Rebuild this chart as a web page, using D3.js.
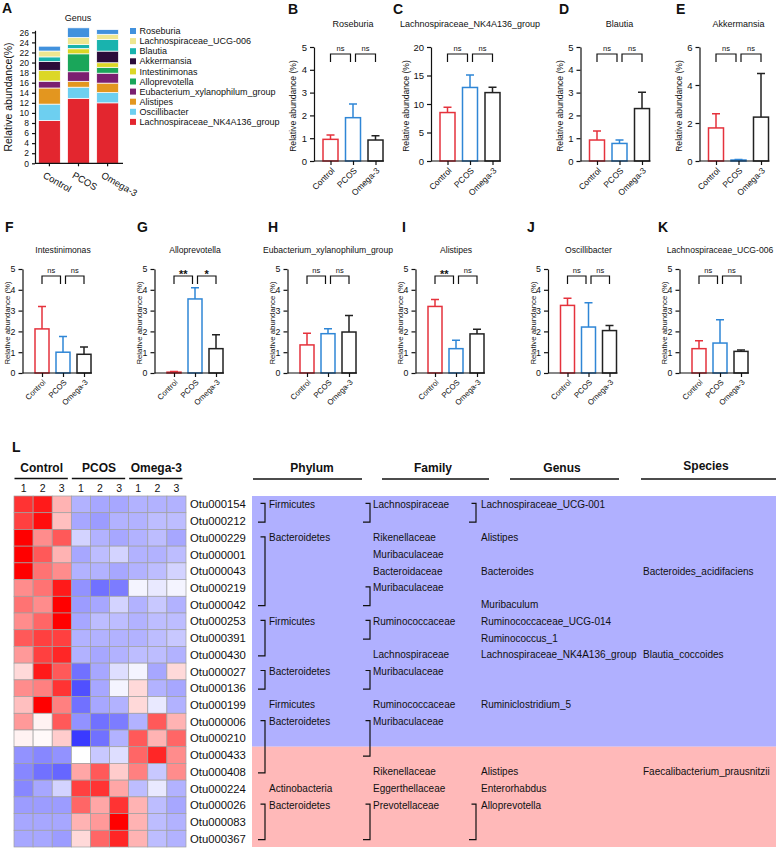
<!DOCTYPE html>
<html>
<head>
<meta charset="utf-8">
<title>Genus abundance and OTU heatmap</title>
<script src="https://d3js.org/d3.v7.min.js"></script>
<style>
  body { margin: 0; background: #fff; }
  text { font-family: Arial, "Liberation Sans", Helvetica, sans-serif; fill: #111; }
</style>
</head>
<body>
<script>
// ---- data ----
var groups = ["Control", "PCOS", "Omega-3"];
// stack order, bottom to top
var genera = ["Lachnospiraceae_NK4A136_group", "Oscillibacter", "Alistipes", "Eubacterium_xylanophilum_group",
              "Alloprevotella", "Intestinimonas", "Akkermansia", "Blautia", "Lachnospiraceae_UCG-006", "Roseburia"];
var meanControl = [8.5, 3.25, 3.2, 1.35, 0.04, 2.12, 1.74, 0.92, 1.17, 0.95];
var meanPCOS    = [12.9, 2.21, 1.17, 1.89, 3.56, 1.0, 0.05, 0.77, 1.44, 1.9];
var meanOmega   = [12.0, 2.04, 1.88, 1.97, 1.17, 0.9, 2.31, 2.3, 1.04, 0.92];
var sdControl   = [0.94, 0.34, 0.33, 0.56, 0.03, 1.08, 0.75, 0.4, 0.38, 0.19];
var sdPCOS      = [2.2, 1.17, 0.4, 0.24, 0.54, 0.76, 0.03, 0.15, 1.12, 0.6];
var sdOmega     = [0.96, 0.24, 0.22, 0.79, 0.67, 0.35, 2.29, 0.72, 0.06, 0.19];
var stackTicks  = d3.range(0, 27, 2);

var panelGenus = ["Roseburia", "Lachnospiraceae_NK4A136_group", "Blautia", "Akkermansia", "Intestinimonas",
                  "Alloprevotella", "Eubacterium_xylanophilum_group", "Alistipes", "Oscillibacter", "Lachnospiraceae_UCG-006"];
var panelTicks = [[0,1,2,3,4,5], [0,5,10,15,20], [0,1,2,3,4,5], [0,2,4,6], [0,1,2,3,4,5],
                  [0,1,2,3,4,5], [0,1,2,3,4,5], [0,1,2,3,4,5], [0,1,2,3,4,5], [0,1,2,3,4,5]];
var sigLeft  = ["ns", "ns", "ns", "ns", "ns", "**", "ns", "**", "ns", "ns"];
var sigRight = ["ns", "ns", "ns", "ns", "ns", "*",  "ns", "ns", "ns", "ns"];

var otuIds = ["Otu000154","Otu000212","Otu000229","Otu000001","Otu000043","Otu000219","Otu000042","Otu000253",
              "Otu000391","Otu000430","Otu000027","Otu000136","Otu000199","Otu000006","Otu000210","Otu000433",
              "Otu000408","Otu000224","Otu000026","Otu000083","Otu000367"];
var heatValues = [
  [1.6, 1.8, 0.6, -0.7, -0.8, -0.8, -0.7, -0.7, -0.7],
  [1.5, 1.9, 0.5, -0.8, -0.9, -0.7, -0.7, -0.6, -0.6],
  [2.0, 0.9, 1.3, -0.4, -0.7, -0.8, -0.7, -0.6, -0.8],
  [2.0, 1.3, 0.6, -0.8, -0.6, -0.4, -0.7, -0.7, -0.6],
  [2.0, 1.1, 0.9, -0.7, -0.7, -0.8, -0.7, -0.6, -0.4],
  [0.9, 1.1, 1.8, -1.0, -1.3, -1.2, -0.1, -0.2, -0.1],
  [1.1, 0.9, 2.0, -0.9, -0.8, -0.4, -0.7, -0.5, -0.7],
  [0.9, 1.2, 2.0, -0.8, -0.6, -0.6, -0.7, -0.6, -0.6],
  [1.3, 1.5, 1.5, -0.7, -0.7, -0.7, -0.7, -0.6, -0.5],
  [0.8, 1.5, 1.7, -0.7, -0.8, -0.7, -0.6, -0.6, -0.7],
  [0.3, 1.8, 1.3, -1.3, -0.8, -0.3, -0.1, -0.8, 0.3],
  [0.9, 1.0, 1.6, -1.6, -0.8, -0.1, 0.3, -0.7, -0.8],
  [0.5, 2.0, 1.0, -1.3, -0.8, -0.7, 0.3, -0.2, -0.7],
  [0.8, 0.1, 1.3, -1.0, -1.3, -1.2, -0.7, 1.3, 0.6],
  [0.1, 0.05, 0.4, -1.8, -1.3, -0.7, 1.3, 0.6, 1.2],
  [-1.0, -1.1, -1.0, 0.0, -0.5, -0.3, 1.2, 1.7, 0.9],
  [-1.1, -1.3, -1.4, 0.7, 1.3, 0.4, 1.0, -0.5, 0.9],
  [-1.1, -0.8, -0.4, 1.5, 1.6, 0.7, -0.6, -0.2, -0.7],
  [-0.9, -0.9, -0.9, 1.2, 0.7, 1.6, 0.6, -0.6, -0.8],
  [-0.8, -0.8, -0.8, 0.6, 0.8, 2.0, 0.6, -0.6, -0.7],
  [-0.8, -0.8, -0.9, 0.3, 1.2, 1.7, 0.6, -0.6, -0.7]
];
var replicates = ["1", "2", "3"];
var controlEnrichedCount = 15;   // first 15 OTUs higher in Control

var taxLevels = ["Phylum", "Family", "Genus", "Species"];
var phylumCol = [[0,1,"Firmicutes"],[2,6,"Bacteroidetes"],[7,9,"Firmicutes"],[10,11,"Bacteroidetes"],
                 [12,12,"Firmicutes"],[13,16,"Bacteroidetes"],[17,17,"Actinobacteria"],[18,20,"Bacteroidetes"]];
var familyCol = [[0,1,"Lachnospiraceae"],[2,2,"Rikenellaceae"],[3,3,"Muribaculaceae"],[4,4,"Bacteroidaceae"],
                 [5,6,"Muribaculaceae"],[7,8,"Ruminococcaceae"],[9,9,"Lachnospiraceae"],[10,11,"Muribaculaceae"],
                 [12,12,"Ruminococcaceae"],[13,15,"Muribaculaceae"],[16,16,"Rikenellaceae"],[17,17,"Eggerthellaceae"],
                 [18,20,"Prevotellaceae"]];
var genusCol = [[0,1,"Lachnospiraceae_UCG-001"],[2,2,"Alistipes"],[4,4,"Bacteroides"],[6,6,"Muribaculum"],
                [7,7,"Ruminococcaceae_UCG-014"],[8,8,"Ruminococcus_1"],[9,9,"Lachnospiraceae_NK4A136_group"],
                [12,12,"Ruminiclostridium_5"],[16,16,"Alistipes"],[17,17,"Enterorhabdus"],[18,20,"Alloprevotella"]];
var speciesCol = [[4,4,"Bacteroides_acidifaciens"],[9,9,"Blautia_coccoides"],[16,16,"Faecalibacterium_prausnitzii"]];

// ---- styles ----
var genusColor = {
  "Lachnospiraceae_NK4A136_group": "#e3262f", "Oscillibacter": "#6dcff0", "Alistipes": "#e3961f",
  "Eubacterium_xylanophilum_group": "#7b1f70", "Alloprevotella": "#1aa65a", "Intestinimonas": "#dcd727",
  "Akkermansia": "#2b0c3a", "Blautia": "#19b3ae", "Lachnospiraceae_UCG-006": "#eee690", "Roseburia": "#4191dd"
};
var groupColor = ["#e5323c", "#2f86d6", "#222222"];
var intFmt = d3.format("d");

var svg = d3.select("body").append("svg").attr("width", 777).attr("height", 849);

function letter(t, x, y) {
  svg.append("text").attr("x", x).attr("y", y).attr("font-size", 14).attr("font-weight", "bold").text(t);
}

function styleAxis(sel, fs) {
  sel.attr("font-family", null).attr("font-size", fs);
  sel.selectAll("path, line").attr("stroke", "#111").attr("stroke-width", 1.2);
  sel.selectAll("text").attr("fill", "#111");
}

// ---- panel A: stacked bars ----
(function() {
  letter("A", 2, 13);
  var g = svg.append("g");
  var y = d3.scaleLinear().domain([0, 26.4]).range([163.3, 30.3]);
  var x = d3.scaleBand().domain(groups).range([35, 122]).paddingInner(0.25).paddingOuter(0.12);
  var rows = groups.map(function(gr, i) {
    var o = { group: gr };
    var m = [meanControl, meanPCOS, meanOmega][i];
    genera.forEach(function(k, j) { o[k] = m[j]; });
    return o;
  });
  var series = d3.stack().keys(genera)(rows);
  g.selectAll(".layer").data(series).enter().append("g")
    .attr("fill", function(d) { return genusColor[d.key]; })
    .selectAll("rect").data(function(d) { return d; }).enter().append("rect")
    .attr("x", function(d) { return x(d.data.group); })
    .attr("width", x.bandwidth())
    .attr("y", function(d) { return y(d[1]); })
    .attr("height", function(d) { return y(d[0]) - y(d[1]); })
    .attr("stroke", "#fff").attr("stroke-width", 0.7);

  var ya = g.append("g").attr("transform", "translate(35,0)")
    .call(d3.axisLeft(y).tickValues(stackTicks).tickFormat(intFmt).tickSize(3).tickSizeOuter(0));
  styleAxis(ya, 8.5);
  var xa = g.append("g").attr("transform", "translate(0,163.3)")
    .call(d3.axisBottom(x).tickSize(3).tickSizeOuter(0));
  styleAxis(xa, 9.5);
  xa.select(".domain").attr("d", "M35,0H123");
  xa.selectAll("text").attr("text-anchor", "start").attr("dy", null)
    .attr("transform", "translate(-2,5) rotate(30)").attr("y", 3).attr("x", 0)
    .attr("dominant-baseline", "hanging");

  g.append("text").attr("transform", "translate(8,97) rotate(-90)").attr("text-anchor", "middle")
    .attr("dy", "0.35em").attr("font-size", 10.5).text("Relative abundance(%)");
  g.append("text").attr("x", 78).attr("y", 21).attr("text-anchor", "middle").attr("font-size", 9).text("Genus");

  var legend = genera.slice().reverse();
  var lg = g.selectAll(".leg").data(legend).enter().append("g")
    .attr("transform", function(d, i) { return "translate(130," + (31 + i * 10.1) + ")"; });
  lg.append("rect").attr("x", 0).attr("y", -3).attr("width", 6).attr("height", 6)
    .attr("fill", function(d) { return genusColor[d]; });
  lg.append("text").attr("x", 9.5).attr("y", 0).attr("dy", "0.35em").attr("font-size", 9).text(function(d) { return d; });
})();

// ---- panels B-K: single genus bars ----
var rowCfg = [
  { y0: 161, y1: 47, step: 22.5, off: 16.5, bw: 15, letterY: 14, titleY: 27, fs: 8.5, tfs: 9, lfs: 8.6, labOff: 21 },
  { y0: 373, y1: 269, step: 21, off: 19.5, bw: 14, letterY: 232, titleY: 253, fs: 7.8, tfs: 8.6, lfs: 7.8, labOff: 15 }
];
var panelLayout = [
  { letter: "B", lx: 288, ax: 314, row: 0 }, { letter: "C", lx: 393, ax: 431, row: 0 },
  { letter: "D", lx: 559, ax: 580.5, row: 0 }, { letter: "E", lx: 676, ax: 699.5, row: 0 },
  { letter: "F", lx: 5, ax: 22.5, row: 1 }, { letter: "G", lx: 137, ax: 154.5, row: 1 },
  { letter: "H", lx: 268, ax: 287.5, row: 1 }, { letter: "I", lx: 402, ax: 415.5, row: 1 },
  { letter: "J", lx: 527, ax: 548, row: 1 }, { letter: "K", lx: 658, ax: 679.5, row: 1 }
];

panelLayout.forEach(function(p, i) {
  var c = rowCfg[p.row];
  var gi = genera.indexOf(panelGenus[i]);
  var means = [meanControl[gi], meanPCOS[gi], meanOmega[gi]];
  var sds = [sdControl[gi], sdPCOS[gi], sdOmega[gi]];
  var ticks = panelTicks[i];
  var ymax = ticks[ticks.length - 1];
  var g = svg.append("g");
  letter(p.letter, p.lx, c.letterY);

  var y = d3.scaleLinear().domain([0, ymax]).range([c.y0, c.y1]);
  var x = d3.scalePoint().domain(groups).range([p.ax + c.off, p.ax + c.off + 2 * c.step]);
  var xEnd = x("Omega-3") + c.bw / 2 + 1;

  g.append("text").attr("x", x("PCOS")).attr("y", c.titleY).attr("text-anchor", "middle")
    .attr("font-size", c.tfs).text(panelGenus[i]);

  // bars
  g.selectAll(".bar").data(groups).enter().append("rect")
    .attr("x", function(d) { return x(d) - c.bw / 2; })
    .attr("width", c.bw)
    .attr("y", function(d, j) { return y(means[j]); })
    .attr("height", function(d, j) { return c.y0 - y(means[j]); })
    .attr("fill", "#fff")
    .attr("stroke", function(d, j) { return groupColor[j]; })
    .attr("stroke-width", 1.5);
  // error bars (upper)
  g.selectAll(".err").data(groups).enter().append("path")
    .attr("d", function(d, j) {
      var cx = x(d), t = y(means[j] + sds[j]);
      return "M" + cx + "," + y(means[j]) + "V" + t + "M" + (cx - 4) + "," + t + "H" + (cx + 4);
    })
    .attr("fill", "none")
    .attr("stroke", function(d, j) { return groupColor[j]; })
    .attr("stroke-width", 1.5);

  var ya = g.append("g").attr("transform", "translate(" + p.ax + ",0)")
    .call(d3.axisLeft(y).tickValues(ticks).tickFormat(intFmt).tickSize(4).tickSizeOuter(0));
  styleAxis(ya, c.fs + 1);
  var xa = g.append("g").attr("transform", "translate(0," + c.y0 + ")")
    .call(d3.axisBottom(x).tickSize(4).tickSizeOuter(0));
  styleAxis(xa, c.fs);
  xa.select(".domain").attr("d", "M" + p.ax + ",0H" + xEnd);
  xa.selectAll("text").attr("text-anchor", "end").attr("dy", null).attr("y", 0).attr("x", 0)
    .attr("transform", "translate(2,8) rotate(-45)").attr("dominant-baseline", "central");

  var nd = String(ymax).length;
  g.append("text")
    .attr("transform", "translate(" + (p.ax - c.labOff - (nd - 1) * 4) + "," + ((c.y0 + c.y1) / 2 + 2) + ") rotate(-90)")
    .attr("text-anchor", "middle").attr("dy", "0.35em").attr("font-size", c.lfs).text("Relative abundance (%)");

  // significance brackets
  var top = c.y1 + 7, leg = top + 8;
  var pairs = [[x("Control"), x("PCOS") - 2.5, sigLeft[i]], [x("PCOS") + 2.5, x("Omega-3"), sigRight[i]]];
  pairs.forEach(function(pr) {
    g.append("path").attr("d", "M" + pr[0] + "," + leg + "V" + top + "H" + pr[1] + "V" + leg)
      .attr("fill", "none").attr("stroke", "#111").attr("stroke-width", 1.2);
    var star = pr[2] !== "ns";
    g.append("text").attr("x", (pr[0] + pr[1]) / 2).attr("y", star ? top + 2 : top - 3)
      .attr("text-anchor", "middle")
      .attr("font-size", star ? 11 : 7.5).attr("font-weight", star ? "bold" : "normal").text(pr[2]);
  });
});

// ---- panel L: heatmap ----
letter("L", 12, 452);
var hx = d3.scaleBand().domain(d3.range(9)).range([14, 186]);
var hy = d3.scaleBand().domain(otuIds).range([496, 847]);
var heatColor = d3.scaleLinear().domain([-2, 0, 2]).range(["#2424ff", "#ffffff", "#ff0000"]);

var hm = svg.append("g");
heatValues.forEach(function(row, r) {
  hm.selectAll(".c" + r).data(row).enter().append("rect")
    .attr("x", function(d, j) { return hx(j); })
    .attr("y", hy(otuIds[r]))
    .attr("width", hx.bandwidth()).attr("height", hy.bandwidth())
    .attr("fill", function(d) { return heatColor(d); })
    .attr("stroke", "#a0a0a0").attr("stroke-width", 0.7);
});
hm.selectAll(".otu").data(otuIds).enter().append("text")
  .attr("x", 190).attr("y", function(d) { return hy(d) + hy.bandwidth() / 2; })
  .attr("dy", "0.36em").attr("font-size", 11.3).text(function(d) { return d; });
groups.forEach(function(gr, k) {
  var x0 = hx(k * 3), x1 = hx(k * 3 + 2) + hx.bandwidth();
  hm.append("text").attr("x", (x0 + x1) / 2 - 1).attr("y", 472).attr("text-anchor", "middle")
    .attr("font-size", 12).attr("font-weight", "bold").text(gr);
  hm.append("line").attr("x1", x0 + 0.5).attr("x2", x1 - 3.5).attr("y1", 478.5).attr("y2", 478.5)
    .attr("stroke", "#111").attr("stroke-width", 1.5);
  replicates.forEach(function(rp, j) {
    hm.append("text").attr("x", hx(k * 3 + j) + hx.bandwidth() / 2).attr("y", 492)
      .attr("text-anchor", "middle").attr("font-size", 10.5).text(rp);
  });
});

// ---- taxonomy table ----
var tb = svg.append("g");
var rowMid = function(r) { return hy(otuIds[r]) + hy.bandwidth() / 2; };
tb.append("rect").attr("x", 252).attr("width", 524)
  .attr("y", hy(otuIds[0])).attr("height", hy.bandwidth() * controlEnrichedCount).attr("fill", "#b0b0ff");
tb.append("rect").attr("x", 252).attr("width", 524)
  .attr("y", hy(otuIds[controlEnrichedCount]))
  .attr("height", hy.bandwidth() * (otuIds.length - controlEnrichedCount)).attr("fill", "#ffb9b9");

var colText = [269, 373, 481, 643];
var colBracket = [265, 370, 476, null];
var headCenter = [312, 433, 562, 706];
var headLine = [[253, 362], [382, 489], [510, 619], [641, 776]];
[phylumCol, familyCol, genusCol, speciesCol].forEach(function(col, k) {
  tb.append("text").attr("x", headCenter[k]).attr("y", k === 3 ? 470 : 472).attr("text-anchor", "middle")
    .attr("font-size", 12).attr("font-weight", "bold").text(taxLevels[k]);
  tb.append("line").attr("x1", headLine[k][0]).attr("x2", headLine[k][1]).attr("y1", 479).attr("y2", 479)
    .attr("stroke", "#111").attr("stroke-width", 1.5);
  col.forEach(function(e) {
    tb.append("text").attr("x", colText[k]).attr("y", rowMid(e[0])).attr("dy", "0.35em")
      .attr("font-size", 10).text(e[2]);
    if (e[1] > e[0] && colBracket[k] !== null) {
      var bx = colBracket[k], t = rowMid(e[0]) - 1, b = rowMid(e[1]) + 1;
      tb.append("path").attr("d", "M" + (bx - 4.5) + "," + t + "H" + bx + "V" + b + "H" + (bx - 7))
        .attr("fill", "none").attr("stroke", "#111").attr("stroke-width", 1.2);
    }
  });
});
</script>
</body>
</html>
